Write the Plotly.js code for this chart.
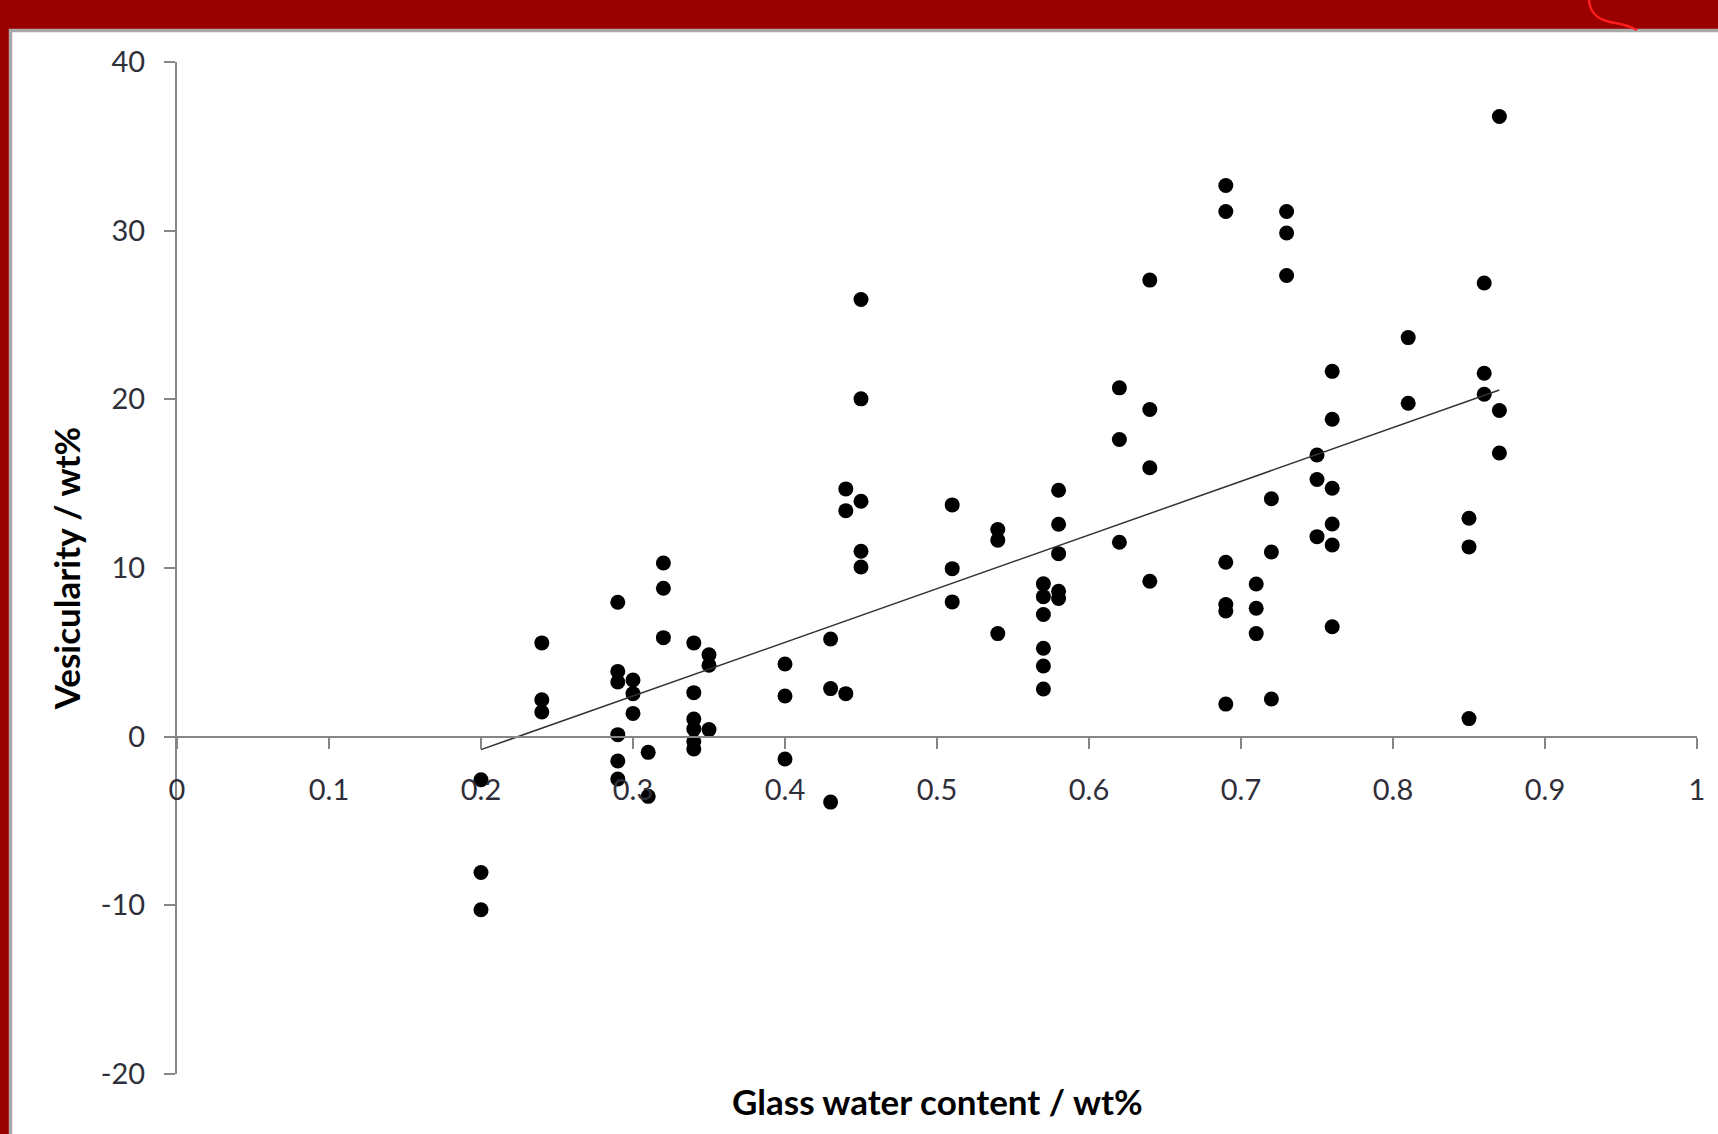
<!DOCTYPE html>
<html>
<head>
<meta charset="utf-8">
<script src="https://cdn.plot.ly/plotly-3.0.1.min.js"></script>
<style>
  html, body { margin: 0; padding: 0; background: #990000; }
  #chart { width: 1718px; height: 1134px; }
</style>
</head>
<body>
<div id="chart"></div>
<script>
// ---- data ----
const waterContent = [
  0.20, 0.20, 0.20,
  0.24, 0.24, 0.24,
  0.29, 0.29, 0.29, 0.29, 0.29, 0.29,
  0.30, 0.30, 0.30,
  0.31, 0.31,
  0.32, 0.32, 0.32,
  0.34, 0.34, 0.34, 0.34, 0.34, 0.34,
  0.35, 0.35, 0.35,
  0.40, 0.40, 0.40,
  0.43, 0.43, 0.43,
  0.44, 0.44, 0.44,
  0.45, 0.45, 0.45, 0.45, 0.45,
  0.51, 0.51, 0.51,
  0.54, 0.54, 0.54,
  0.57, 0.57, 0.57, 0.57, 0.57, 0.57,
  0.58, 0.58, 0.58, 0.58, 0.58,
  0.62, 0.62, 0.62,
  0.64, 0.64, 0.64, 0.64,
  0.69, 0.69, 0.69, 0.69, 0.69, 0.69,
  0.71, 0.71, 0.71,
  0.72, 0.72, 0.72,
  0.73, 0.73, 0.73,
  0.75, 0.75, 0.75,
  0.76, 0.76, 0.76, 0.76, 0.76, 0.76,
  0.81, 0.81,
  0.85, 0.85, 0.85,
  0.86, 0.86, 0.86,
  0.87, 0.87, 0.87
];
const vesicularity = [
  -2.55, -8.05, -10.26,
  5.56, 2.19, 1.46,
  7.97, 3.87, 3.24, 0.12, -1.44, -2.51,
  3.36, 2.55, 1.38,
  -0.93, -3.54,
  10.3, 8.8, 5.87,
  5.56, 2.61, 1.05, 0.46, -0.28, -0.73,
  4.86, 4.23, 0.42,
  4.31, 2.41, -1.32,
  5.79, 2.85, -3.88,
  14.69, 13.4, 2.55,
  25.92, 20.03, 13.96, 10.99, 10.06,
  13.74, 9.96, 7.99,
  12.28, 11.65, 6.11,
  9.06, 8.3, 7.24, 5.24, 4.19, 2.83,
  14.61, 12.59, 10.85, 8.62, 8.19,
  20.68, 17.62, 11.53,
  27.07, 19.4, 15.94, 9.21,
  32.68, 31.14, 10.34, 7.84, 7.45, 1.93,
  9.05, 7.61, 6.11,
  14.11, 10.95, 2.23,
  31.14, 29.86, 27.34,
  16.7, 15.25, 11.86,
  21.66, 18.82, 14.73, 12.61, 11.36, 6.52,
  23.66, 19.77,
  12.95, 11.25, 1.07,
  26.9, 21.55, 20.3,
  36.77, 19.34, 16.82
];
const trendX = [0.20, 0.87];
const trendY = [-0.77, 20.55];
const xTickVals = [0, 0.1, 0.2, 0.3, 0.4, 0.5, 0.6, 0.7, 0.8, 0.9, 1];
const xTickText = ["0", "0.1", "0.2", "0.3", "0.4", "0.5", "0.6", "0.7", "0.8", "0.9", "1"];
const yTickVals = [-20, -10, 0, 10, 20, 30, 40];
const yTickText = ["-20", "-10", "0", "10", "20", "30", "40"];
const xTitle = "Glass water content / wt%";
const yTitle = "Vesicularity / wt%";

// ---- layout geometry ----
const W = 1718, H = 1134;
const M = { l: 177, r: 21, t: 62, b: 60 };
const pw = W - M.l - M.r, ph = H - M.t - M.b;
const px = x => (x - M.l) / pw;
const py = y => (H - M.b - y) / ph;

const FONT = "Lato, 'Open Sans', 'DejaVu Sans', sans-serif";
const AXIS_GREY = "#868686";

const traces = [
  {
    type: "scatter", mode: "markers",
    x: waterContent, y: vesicularity,
    marker: { color: "#000000", size: 15 },
    hoverinfo: "x+y", showlegend: false
  },
  {
    type: "scatter", mode: "lines",
    x: trendX, y: trendY,
    line: { color: "#333333", width: 1.5 },
    hoverinfo: "skip", showlegend: false
  }
];

const curve = "M " + px(1589) + "," + py(0) +
  " C " + px(1590) + "," + py(12) + " " + px(1596) + "," + py(19) + " " + px(1610) + "," + py(22) +
  " C " + px(1622) + "," + py(24) + " " + px(1630) + "," + py(26) + " " + px(1637) + "," + py(30);

const layout = {
  width: W, height: H,
  margin: M,
  paper_bgcolor: "#990000",
  plot_bgcolor: "#ffffff",
  showlegend: false,
  font: { family: FONT, color: "#333333" },
  xaxis: {
    range: [0, 1],
    tickmode: "array", tickvals: xTickVals, ticktext: xTickText,
    ticks: "outside", ticklen: 11, tickwidth: 2, tickcolor: AXIS_GREY,
    showline: true, linecolor: AXIS_GREY, linewidth: 2,
    showgrid: false, zeroline: false,
    anchor: "free", position: 1 / 3,
    tickfont: { family: FONT, size: 29, color: "#2f2f3a" },
    ticklabelstandoff: 17,
    fixedrange: true
  },
  yaxis: {
    range: [-20, 40],
    tickmode: "array", tickvals: yTickVals, ticktext: yTickText,
    ticks: "outside", ticklen: 11, tickwidth: 2, tickcolor: AXIS_GREY,
    showline: true, linecolor: AXIS_GREY, linewidth: 2,
    showgrid: false, zeroline: false,
    tickfont: { family: FONT, size: 29, color: "#2f2f3a" },
    ticklabelstandoff: 13,
    title: { text: yTitle, font: { family: FONT, size: 35, color: "#000000", weight: "bold" }, standoff: 10 },
    fixedrange: true
  },
  annotations: [
    {
      xref: "paper", yref: "paper",
      x: 0.5, y: py(1101),
      xanchor: "center", yanchor: "middle",
      text: "<b>" + xTitle + "</b>",
      showarrow: false,
      font: { family: FONT, size: 35, color: "#000000" }
    }
  ],
  shapes: [
    {
      type: "rect", xref: "paper", yref: "paper", layer: "below",
      x0: px(10.5), x1: px(1740), y0: py(30.5), y1: py(1160),
      fillcolor: "#ffffff",
      line: { color: "#a9a9a9", width: 3.5 }
    },
    {
      type: "path", xref: "paper", yref: "paper", layer: "below",
      path: curve,
      line: { color: "#ff1e1e", width: 2.5 }
    }
  ]
};

Plotly.newPlot("chart", traces, layout, { displayModeBar: false, staticPlot: true });
</script>
</body>
</html>
